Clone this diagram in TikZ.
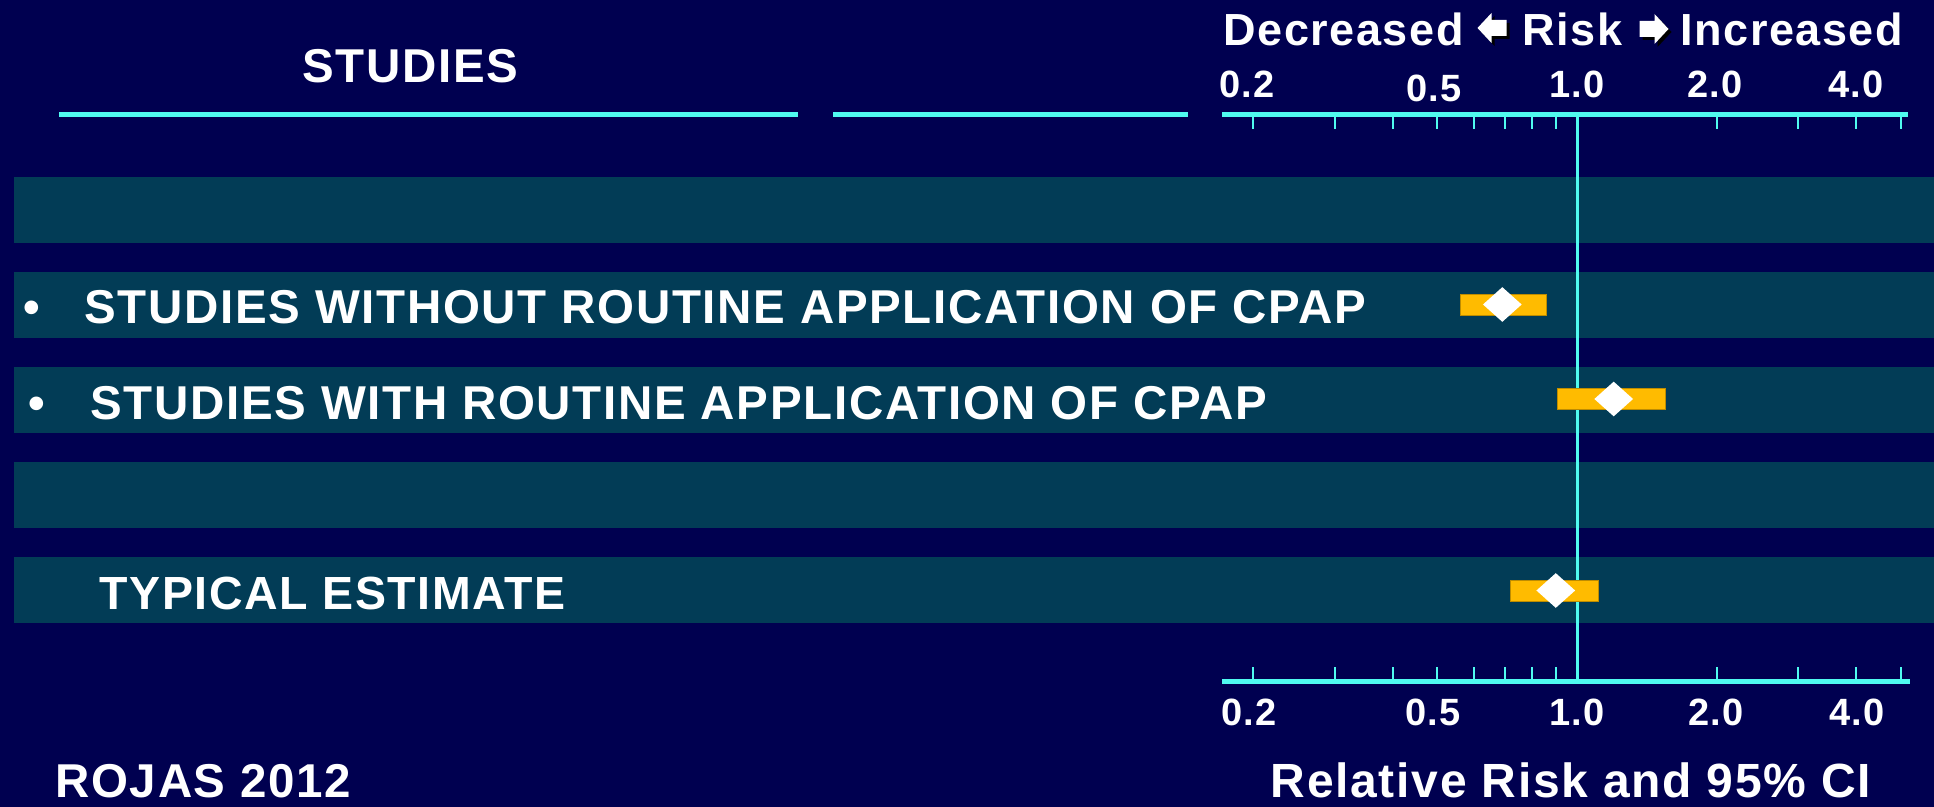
\documentclass[tikz,border=0pt]{standalone}
\usepackage{fontspec}
\setmainfont{Liberation Sans}
\usetikzlibrary{shapes.geometric}

\definecolor{slidebg}{RGB}{0,0,80}
\definecolor{rowband}{RGB}{2,60,86}
\definecolor{axiscyan}{RGB}{80,250,240}
\definecolor{cibar}{RGB}{255,187,0}
\definecolor{ciedge}{RGB}{190,140,0}

\begin{document}
\begin{tikzpicture}[%
    x=0.5pt, y=-0.5pt,            % one unit is one pixel of the slide, y downwards
    txt/.style={text=white, inner sep=0pt,
      font=\bfseries\fontsize{#1}{#1}\selectfont\addfontfeatures{LetterSpace=3.5}},
    txt/.default=23.75,
    ]
% -------------------------------------------------
% Styles for the axes and the estimates
\tikzset{
  rule/.style={draw=axiscyan, line width=2.25pt},
  tickmark/.style={draw=axiscyan, line width=1pt},
  refline/.style={draw=axiscyan, line width=1.5pt},
  ci/.style={fill=cibar, draw=ciedge, line width=0.4pt},
  est/.style={diamond, fill=white, inner sep=0pt,
    minimum width=19.5pt, minimum height=17.5pt},
  % fat block arrow with a black shadow, #1 = -1 (left) or 1 (right)
  blockarr/.pic={
    \foreach \c/\s in {black/3, white/0}
      \fill[\c, shift={(\s,\s)}] ({#1*15},0) -- ({#1*1},-15) -- ({#1*1},-8)
        -- ({-#1*14},-8) -- ({-#1*14},8) -- ({#1*1},8) -- ({#1*1},15) -- cycle;
  },
}
% -------------------------------------------------
% Background and row bands
\fill[slidebg] (0,0) rectangle (1934,807);
\useasboundingbox (0,0) rectangle (1934,807);
\foreach \i in {0,...,4}
  \fill[rowband] (14,{177+95*\i}) rectangle (1934,{243+95*\i});

% Column rules and the two axes
\draw[rule] (59,114.5) -- (798,114.5);
\draw[rule] (833,114.5) -- (1188,114.5);
\draw[rule] (1222,114.5) coordinate (topL) -- (1908,114.5) coordinate (topR);
\draw[rule] (1222,681.5) coordinate (botL) -- (1910,681.5) coordinate (botR);
\foreach \v in {0.2,0.3,0.4,0.5,0.6,0.7,0.8,0.9,2,3,4,5} {
  \draw[tickmark] ({1577+463.5*log10(\v)},117) -- ++(0,12);
  \draw[tickmark] ({1577+463.5*log10(\v)},679) -- ++(0,-12);
}
\draw[refline] (1577,117) coordinate (one) -- (1577,679);

% Tick labels
\foreach \x/\t/\yb in {1247/0.2/98, 1434/0.5/102, 1577/1.0/98, 1715/2.0/98, 1856/4.0/98}
  \node[txt=19, anchor=base] (top\t) at (\x,\yb) {\t};
\foreach \x/\t in {1249/0.2, 1433/0.5, 1577/1.0, 1716/2.0, 1857/4.0}
  \node[txt=19, anchor=base] (bot\t) at (\x,725) {\t};

% Header over the scale
\node[txt=22.5, anchor=base west] (decr) at (1223,46) {Decreased};
\pic (larr) at (1492.5,28) {blockarr=-1};
\node[txt=22.5, anchor=base west] (risk) at (1522,46) {Risk};
\pic (rarr) at (1653.5,29) {blockarr=1};
\node[txt=22.5, anchor=base west] (incr) at (1680,46) {Increased};
\node[txt=24, anchor=base] (xlabel) at (1571,797) {Relative Risk and 95\% CI};

% Study column
\node[txt, anchor=base west] (studies) at (302,83) {STUDIES};
\node[txt, anchor=base] (b1) at (32,324) {•};
\node[txt, anchor=base west] (row1) at (84,324) {STUDIES WITHOUT ROUTINE APPLICATION OF CPAP};
\node[txt, anchor=base] (b2) at (36.5,420) {•};
\node[txt, anchor=base west] (row2) at (90,420) {STUDIES WITH ROUTINE APPLICATION OF CPAP};
\node[txt=23.25, anchor=base west] (typ) at (99,610) {TYPICAL ESTIMATE};
\node[txt, anchor=base west] (src) at (55,797) {ROJAS 2012};

% Estimates with 95% CI (lo/hi/point on the log scale)
\foreach \n/\lo/\hi/\pt/\yc in {1/0.56/0.86/0.69/304.5, 2/0.905/1.55/1.20/399, 3/0.72/1.11/0.90/590.5} {
  \filldraw[ci] ({1577+463.5*log10(\lo)},{\yc-10.5}) rectangle ({1577+463.5*log10(\hi)},{\yc+10.5});
  \node[est] (est\n) at ({1577+463.5*log10(\pt)},\yc) {};
}
% -------------------------------------------------
\end{tikzpicture}
\end{document}
